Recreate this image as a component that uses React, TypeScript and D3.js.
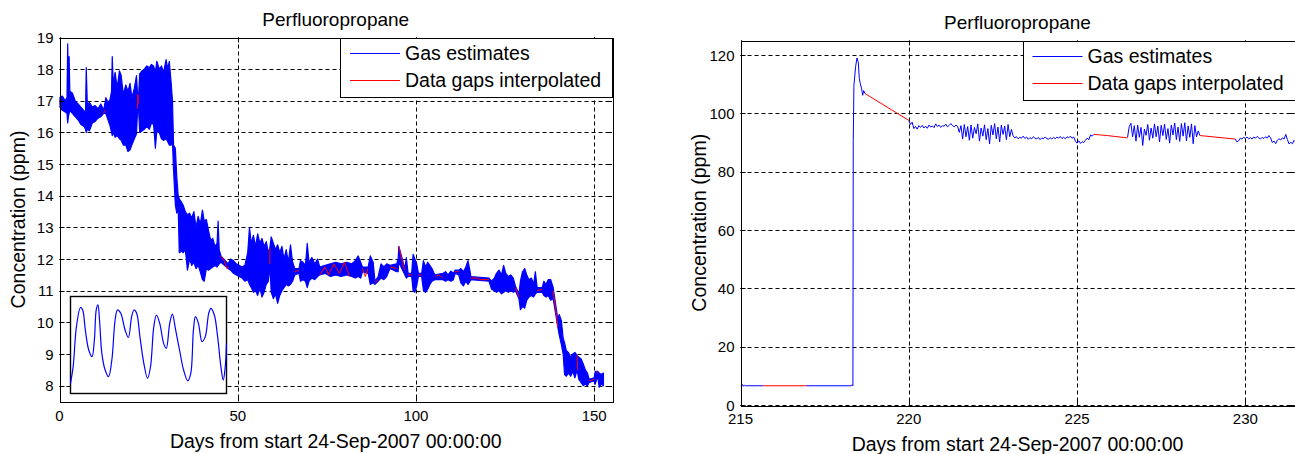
import React from 'react';
import * as d3 from 'd3';

const TITLE = 'Perfluoropropane';
const X_LABEL = 'Days from start 24-Sep-2007 00:00:00';
const Y_LABEL = 'Concentration (ppm)';
const LEGEND_LABELS = ['Gas estimates', 'Data gaps interpolated'];
const GAS_COLOR = '#0000ff';
const GAP_COLOR = '#ff0000';

const leftXTicks = [0, 50, 100, 150];
const leftYTicks = [8, 9, 10, 11, 12, 13, 14, 15, 16, 17, 18, 19];
const rightXTicks = [215, 220, 225, 230];
const rightYTicks = [0, 20, 40, 60, 80, 100, 120];

// Left panel: gas estimates as read envelope [day, low, high] (dense noisy record)
const leftGasEnvelope: [number, number, number][] = [
  [0, 16.8, 17.1], [0.8, 16.7, 17.15], [1.6, 16.65, 17.0], [2.1, 16.6, 17.1], [2.3, 16.3, 18.8],
  [2.5, 16.5, 17.4], [2.7, 16.6, 18.4], [2.9, 16.7, 17.3], [3.6, 16.6, 17.25], [4.4, 16.5, 17.0],
  [5.2, 16.4, 16.9], [6.0, 16.25, 16.8], [6.8, 16.2, 16.7], [7.3, 16.1, 16.6], [7.5, 16.0, 18.05],
  [7.8, 16.1, 16.9], [8.4, 16.05, 16.95], [9.2, 16.3, 16.8], [10.0, 16.35, 16.85], [10.8, 16.45, 16.75],
  [11.6, 16.5, 16.9], [12.4, 16.6, 16.7], [13.0, 16.6, 17.1], [13.6, 16.4, 16.95], [14.2, 16.2, 17.05],
  [14.6, 16.0, 17.3], [14.8, 15.9, 18.4], [15.1, 16.0, 17.5], [15.6, 15.85, 17.9], [16.2, 15.9, 17.4],
  [16.8, 15.8, 17.95], [17.3, 15.75, 17.8], [17.9, 15.6, 17.2], [18.6, 15.6, 17.5], [19.2, 15.4, 17.3],
  [19.8, 15.45, 17.55], [20.3, 15.6, 17.1], [21.0, 15.8, 17.4], [21.6, 15.95, 17.8], [21.9, 16.7, 17.2],
  [22.2, 16.7, 17.2], [22.5, 16.0, 17.85], [23.2, 16.05, 17.95], [23.8, 16.1, 18.0], [24.5, 16.2, 18.1],
  [25.2, 16.1, 18.05], [25.8, 16.3, 18.15], [26.4, 16.25, 18.1], [26.9, 15.5, 17.9], [27.3, 16.05, 18.25],
  [28.0, 16.0, 18.0], [28.6, 15.8, 18.1], [29.2, 15.75, 17.9], [29.9, 15.8, 18.3], [30.4, 15.7, 18.0],
  [30.8, 15.6, 18.25], [31.3, 15.6, 17.6], [31.7, 15.65, 17.0], [32.0, 14.8, 15.6], [32.5, 13.7, 15.5],
  [32.9, 13.45, 14.6], [33.3, 13.6, 14.0], [33.6, 12.2, 13.9], [34.2, 12.25, 13.8], [34.7, 12.2, 13.7],
  [35.3, 12.3, 13.5], [35.9, 11.65, 13.4], [36.5, 12.0, 13.45], [37.1, 11.8, 13.3], [37.7, 11.9, 13.5],
  [38.3, 11.7, 13.0], [38.9, 11.8, 13.35], [39.5, 11.6, 13.1], [40.1, 11.35, 13.55], [40.6, 11.3, 13.2],
  [41.2, 11.7, 13.25], [41.8, 11.65, 12.9], [42.4, 11.7, 12.6], [43.0, 11.75, 12.65], [43.6, 11.8, 12.4],
  [44.2, 11.75, 12.5], [44.5, 11.8, 13.2], [44.8, 11.85, 12.3], [45.3, 11.9, 12.1], [47.3, 11.7, 11.85],
  [48.0, 11.65, 12.0], [48.8, 11.55, 11.95], [49.6, 11.5, 11.85], [50.4, 11.45, 11.8], [51.2, 11.4, 11.75],
  [52.0, 11.3, 11.8], [52.8, 11.35, 12.2], [53.3, 11.2, 13.0], [53.8, 11.1, 12.5], [54.4, 10.95, 12.75],
  [55.0, 11.0, 12.4], [55.6, 10.85, 12.8], [56.2, 11.1, 12.5], [56.8, 10.8, 12.65], [57.4, 10.95, 12.4],
  [58.0, 11.2, 12.55], [58.6, 11.3, 12.2], [59.0, 11.8, 12.35], [59.4, 10.95, 12.7], [60.0, 10.75, 12.5],
  [60.6, 10.9, 12.3], [61.2, 10.6, 12.45], [61.8, 10.85, 12.2], [62.4, 11.0, 12.4], [63.0, 11.1, 12.0],
  [63.6, 11.2, 12.3], [64.2, 11.15, 11.9], [64.8, 11.2, 12.45], [65.4, 11.3, 11.9], [66.0, 11.5, 11.7],
  [67.2, 11.55, 11.7], [67.6, 11.3, 11.95], [68.3, 11.35, 11.9], [69.0, 11.3, 11.8], [69.5, 11.1, 12.5],
  [70.0, 11.3, 11.9], [70.8, 11.4, 12.05], [71.6, 11.35, 11.85], [72.4, 11.45, 12.0], [73.0, 11.5, 11.75],
  [74.5, 11.55, 11.8], [76.0, 11.45, 11.85], [77.5, 11.5, 11.9], [79.0, 11.45, 11.85], [80.5, 11.5, 11.9],
  [82.0, 11.45, 11.85], [83.0, 11.4, 11.95], [83.8, 11.45, 12.1], [84.5, 11.4, 11.9], [85.0, 11.6, 11.75],
  [86.6, 11.55, 11.75], [87.2, 11.2, 12.1], [88.0, 11.25, 11.9], [88.5, 11.2, 11.3], [89.4, 11.3, 11.45],
  [90.2, 11.4, 11.85], [91.0, 11.35, 11.75], [91.8, 11.45, 11.85], [92.7, 11.7, 11.8], [94.6, 11.6, 11.85],
  [95.0, 11.6, 12.0], [95.2, 11.9, 12.4], [96.9, 11.5, 11.7], [97.3, 11.4, 12.05], [97.8, 11.45, 11.55],
  [98.8, 11.45, 11.55], [99.2, 11.0, 12.15], [99.7, 10.95, 12.0], [100.2, 11.15, 11.85], [100.7, 11.45, 11.55],
  [101.6, 11.45, 11.55], [102.1, 11.0, 11.95], [102.7, 10.95, 11.75], [103.3, 11.05, 11.9], [103.9, 11.2, 11.8],
  [104.5, 11.3, 11.7], [105.3, 11.35, 11.5], [107.6, 11.35, 11.55], [108.3, 11.3, 11.6], [109.0, 11.35, 11.5],
  [109.8, 11.3, 11.62], [110.5, 11.35, 11.55], [111.0, 11.55, 11.65], [112.0, 11.5, 11.65], [112.6, 11.25, 11.7],
  [113.3, 11.15, 11.6], [114.0, 11.3, 11.75], [114.6, 11.2, 11.95], [115.2, 11.3, 11.6], [115.4, 11.35, 11.45],
  [120.5, 11.3, 11.4], [121.2, 11.05, 11.3], [122.0, 11.0, 11.4], [122.6, 10.95, 11.55], [123.3, 11.0, 11.65],
  [124.0, 10.9, 11.5], [124.6, 10.95, 11.8], [125.2, 11.0, 11.55], [125.9, 10.95, 11.45], [126.6, 11.0, 11.5],
  [127.3, 10.95, 11.4], [127.9, 11.0, 11.15], [128.9, 10.75, 10.9], [129.3, 10.4, 11.3], [129.9, 10.5, 11.6],
  [130.5, 10.45, 11.7], [131.1, 10.7, 11.5], [131.7, 10.8, 11.35], [132.4, 10.85, 11.4], [133.0, 10.8, 11.2],
  [133.5, 10.9, 11.6], [134.0, 10.95, 11.1], [135.4, 10.95, 11.1], [135.9, 10.85, 11.3], [136.5, 10.8, 11.2],
  [137.1, 10.85, 11.35], [137.8, 10.7, 11.35], [138.5, 10.75, 11.1], [139.8, 9.85, 10.1], [140.2, 9.6, 10.25],
  [140.8, 9.3, 10.05], [141.3, 9.0, 9.5], [141.7, 8.35, 9.35], [142.2, 8.3, 9.1], [142.8, 8.4, 9.05],
  [143.4, 8.3, 8.9], [144.0, 8.45, 9.0], [144.6, 8.25, 9.05], [145.2, 8.5, 8.95], [145.7, 8.2, 8.9],
  [146.3, 8.1, 8.85], [146.9, 8.0, 8.7], [147.5, 8.05, 8.5], [148.1, 8.0, 8.4], [148.6, 8.1, 8.2],
  [150.0, 8.15, 8.25], [150.3, 8.05, 8.45], [151.0, 8.3, 8.45], [151.4, 7.95, 8.4], [152.0, 8.05, 8.35],
  [152.6, 8.0, 8.4],
];

// Left panel: interpolated data gaps [day, ppm]
const leftGapSegments: [number, number][][] = [
  [[12.3, 16.6], [12.8, 16.7]],
  [[21.9, 16.75], [22.0, 17.2], [22.1, 16.9]],
  [[45.3, 12.1], [46.2, 11.95], [47.0, 11.7], [47.4, 11.75]],
  [[59.0, 11.85], [59.0, 12.35]],
  [[66.0, 11.6], [67.2, 11.65]],
  [[73.0, 11.5], [74.5, 11.75], [75.5, 11.5], [77.0, 11.85], [78.5, 11.55], [80.0, 11.9], [81.3, 11.45]],
  [[85.0, 11.7], [85.8, 11.45], [86.5, 11.7]],
  [[88.5, 11.25], [89.3, 11.35]],
  [[92.7, 11.75], [94.6, 11.7]],
  [[95.2, 12.4], [95.8, 12.1], [96.8, 11.65]],
  [[97.8, 11.5], [98.8, 11.5]],
  [[100.7, 11.5], [101.6, 11.5]],
  [[105.5, 11.45], [106.5, 11.5], [107.5, 11.4]],
  [[111.0, 11.6], [112.0, 11.6]],
  [[115.3, 11.4], [117.2, 11.4], [118.0, 11.35], [120.5, 11.35]],
  [[127.9, 11.1], [128.9, 10.8]],
  [[134.0, 11.0], [135.4, 11.05]],
  [[138.5, 11.0], [139.2, 10.4], [139.8, 9.85]],
  [[145.2, 8.95], [145.4, 8.5]],
  [[148.6, 8.15], [150.0, 8.2]],
  [[150.6, 8.45], [151.2, 8.4]],
];

// Inset (zoomed oscillation), relative time 0-100 and relative level 0-1
const insetTime = [0, 1.7, 3.8, 6.4, 7.8, 9.5, 11.7, 13.8, 15.3, 16.5, 17.6, 18.6, 20.1, 22.2, 24.4, 26.5, 28.6, 30.1,
  32.2, 35.0, 37.1, 39.2, 40.7, 42.4, 44.5, 47.0, 49.4, 51.3, 53.4, 55.1, 57.2, 59.7, 61.4, 63.6, 65.3, 67.4, 69.9,
  72.5, 75.2, 77.1, 78.8, 80.1, 82.0, 84.3, 86.4, 88.6, 90.0, 92.2, 94.3, 96.4, 97.9, 99.2, 100];
const insetLevel = [0.04, 0.24, 0.72, 0.95, 0.92, 0.68, 0.44, 0.36, 0.56, 0.92, 0.98, 0.80, 0.40, 0.20, 0.12, 0.32, 0.80,
  0.92, 0.88, 0.68, 0.59, 0.84, 0.92, 0.88, 0.60, 0.28, 0.10, 0.24, 0.72, 0.86, 0.76, 0.52, 0.46, 0.76, 0.87, 0.68, 0.44,
  0.20, 0.07, 0.16, 0.68, 0.84, 0.76, 0.54, 0.60, 0.88, 0.94, 0.86, 0.60, 0.24, 0.08, 0.24, 0.52];

// Right panel: gas estimate segments [day, ppm]
const rightGasSegments: [number, number][][] = [
  [[215.0, 6.6], [215.03, 6.3], [215.06, 7.0], [215.09, 6.4], [215.12, 6.8], [215.15, 6.6], [215.67, 6.6]],
  [[216.95, 6.6], [218.28, 6.6], [218.31, 6.9], [218.34, 6.6], [218.35, 90.7], [218.37, 109.6], [218.42, 116],
    [218.46, 119], [218.5, 117.5], [218.53, 112], [218.56, 110.2], [218.6, 108.4], [218.63, 106.2], [218.66, 107.8],
    [218.7, 106.8]],
  [[220.0, 97.5], [220.05, 96.2], [220.1, 97.0], [220.15, 94.8], [220.2, 95.5], [220.25, 94.6], [220.3, 95.8],
    [220.35, 95.2], [220.4, 95.9], [220.45, 95.0], [220.5, 95.6], [220.55, 94.9], [220.6, 96.0], [220.65, 95.3],
    [220.7, 95.7], [220.75, 95.1], [220.8, 96.4], [220.85, 95.5], [220.9, 96.0], [220.95, 95.2], [221.0, 95.8],
    [221.05, 95.6], [221.1, 96.3], [221.15, 95.4], [221.2, 95.9], [221.25, 96.5], [221.3, 95.8], [221.35, 95.4],
    [221.4, 96.0], [221.45, 95.6],
    [221.5, 93.5], [221.55, 95.8], [221.6, 91.2], [221.65, 96.2], [221.7, 92.0], [221.75, 95.5], [221.8, 90.8],
    [221.85, 96.0], [221.9, 91.5], [221.95, 95.2], [222.0, 93.0], [222.05, 96.4], [222.1, 90.5], [222.15, 95.0],
    [222.2, 92.2], [222.25, 96.1], [222.3, 91.0], [222.35, 94.8], [222.4, 89.5], [222.45, 95.9], [222.5, 92.6],
    [222.55, 96.5], [222.6, 91.3], [222.65, 95.3], [222.7, 90.2], [222.75, 96.0], [222.8, 92.8], [222.85, 95.6],
    [222.9, 91.0], [222.95, 96.2], [223.0, 92.0], [223.05, 94.5],
    [223.1, 92.3], [223.15, 91.6], [223.2, 92.0], [223.25, 91.3], [223.3, 91.8], [223.35, 91.5], [223.4, 92.2],
    [223.45, 91.4], [223.5, 91.9], [223.55, 91.1], [223.6, 91.7], [223.65, 91.3], [223.7, 92.0], [223.75, 91.5],
    [223.8, 91.2], [223.85, 91.8], [223.9, 91.0], [223.95, 91.6], [224.0, 91.3], [224.05, 91.9], [224.1, 91.4],
    [224.15, 91.1], [224.2, 91.7], [224.25, 91.2], [224.3, 91.8], [224.35, 91.3], [224.4, 91.9], [224.45, 91.5],
    [224.5, 92.1], [224.55, 91.4], [224.6, 91.8], [224.65, 91.3], [224.7, 92.0], [224.75, 91.6], [224.8, 92.2],
    [224.85, 91.5], [224.9, 91.9], [224.95, 90.5], [225.0, 89.8], [225.05, 90.6], [225.1, 89.7], [225.15, 90.3],
    [225.2, 90.0], [225.25, 90.8], [225.3, 91.5], [225.35, 91.0], [225.4, 92.6], [225.45, 92.2], [225.5, 92.8]],
  [[226.5, 91.8], [226.55, 95.5], [226.6, 96.6], [226.65, 92.0], [226.7, 95.8], [226.75, 90.5], [226.8, 96.0],
    [226.85, 91.8], [226.9, 95.2], [226.95, 89.0], [227.0, 94.6], [227.05, 92.5], [227.1, 96.2], [227.15, 90.8],
    [227.2, 95.0], [227.25, 91.5], [227.3, 96.4], [227.35, 92.0], [227.4, 95.6], [227.45, 90.2], [227.5, 95.9],
    [227.55, 92.4], [227.6, 96.3], [227.65, 91.1], [227.7, 94.8], [227.75, 89.8], [227.8, 96.0], [227.85, 92.6],
    [227.9, 96.7], [227.95, 91.0], [228.0, 95.3], [228.05, 90.4], [228.1, 96.5], [228.15, 92.2], [228.2, 96.8],
    [228.25, 90.6], [228.3, 95.7], [228.35, 91.8], [228.4, 96.4], [228.45, 89.6], [228.5, 95.8], [228.55, 92.0],
    [228.6, 94.0], [228.65, 92.4]],
  [[229.7, 91.2], [229.75, 90.2], [229.8, 90.6], [229.85, 91.5], [229.9, 91.2], [229.95, 91.8], [230.0, 91.4],
    [230.05, 91.9], [230.1, 91.3], [230.15, 91.7], [230.2, 91.2], [230.25, 91.9], [230.3, 91.5], [230.35, 92.1],
    [230.4, 91.6], [230.45, 91.2], [230.5, 91.8], [230.55, 91.4], [230.6, 92.0], [230.65, 91.5], [230.7, 92.4],
    [230.75, 91.6], [230.8, 90.0], [230.85, 90.5], [230.9, 89.6], [230.95, 90.8], [231.0, 91.3], [231.05, 90.9],
    [231.1, 91.6], [231.15, 91.2], [231.2, 92.8], [231.25, 91.0], [231.3, 89.5], [231.35, 90.1], [231.4, 89.6],
    [231.45, 90.8], [231.5, 89.8], [231.55, 90.4], [231.6, 90.0]],
];

const rightGapSegments: [number, number][][] = [
  [[215.67, 6.6], [216.95, 6.6]],
  [[218.7, 106.8], [220.0, 97.6]],
  [[225.5, 92.8], [225.9, 92.4], [226.5, 91.6]],
  [[228.65, 92.4], [229.7, 91.2]],
];

const FONT = "'Liberation Sans', Arial, Helvetica, sans-serif";

type Box = { left: number; right: number; top: number; bottom: number };

function Axes({
  id, box, xDomain, yDomain, xTicks, yTicks, children,
}: {
  id: string; box: Box; xDomain: [number, number]; yDomain: [number, number];
  xTicks: number[]; yTicks: number[];
  children: (x: d3.ScaleLinear<number, number>, y: d3.ScaleLinear<number, number>) => React.ReactNode;
}) {
  const x = d3.scaleLinear().domain(xDomain).range([box.left, box.right]);
  const y = d3.scaleLinear().domain(yDomain).range([box.bottom, box.top]);
  const px = (v: number) => Math.round(v) + 0.5;
  const cx = (box.left + box.right) / 2;
  const cy = (box.top + box.bottom) / 2;
  const legW = 272;
  const legH = 59;
  const legX = box.right - legW;
  const legY = box.top;
  return (
    <g>
      <defs>
        <clipPath id={id}>
          <rect x={box.left} y={box.top} width={box.right - box.left} height={box.bottom - box.top} />
        </clipPath>
      </defs>
      <rect x={box.left} y={box.top} width={box.right - box.left} height={box.bottom - box.top} fill="#fff" />
      {/* grid */}
      <g stroke="#000" strokeWidth={1} strokeDasharray="4,3" fill="none">
        {xTicks.map((t) => (
          <line key={'gx' + t} x1={px(x(t))} x2={px(x(t))} y1={box.top} y2={box.bottom} />
        ))}
        {yTicks.map((t) => (
          <line key={'gy' + t} x1={box.left} x2={box.right} y1={px(y(t))} y2={px(y(t))} />
        ))}
      </g>
      <g clipPath={`url(#${id})`}>{children(x, y)}</g>
      {/* ticks */}
      <g stroke="#000" strokeWidth={1}>
        {xTicks.map((t) => (
          <g key={'tx' + t}>
            <line x1={px(x(t))} x2={px(x(t))} y1={box.bottom} y2={box.bottom - 5} />
            <line x1={px(x(t))} x2={px(x(t))} y1={box.top} y2={box.top + 5} />
          </g>
        ))}
        {yTicks.map((t) => (
          <g key={'ty' + t}>
            <line x1={box.left} x2={box.left + 5} y1={px(y(t))} y2={px(y(t))} />
            <line x1={box.right} x2={box.right - 5} y1={px(y(t))} y2={px(y(t))} />
          </g>
        ))}
      </g>
      <rect x={px(box.left)} y={px(box.top)} width={Math.round(box.right - box.left)} height={Math.round(box.bottom - box.top)}
        fill="none" stroke="#000" strokeWidth={1} />
      {/* tick labels */}
      <g fontFamily={FONT} fontSize={15} fill="#000">
        {xTicks.map((t) => (
          <text key={'lx' + t} x={x(t)} y={box.bottom + 19} textAnchor="middle">{t}</text>
        ))}
        {yTicks.map((t) => (
          <text key={'ly' + t} x={box.left - 6} y={y(t)} textAnchor="end" dominantBaseline="central">{t}</text>
        ))}
      </g>
      <text x={cx} y={box.top - 12} textAnchor="middle" fontFamily={FONT} fontSize={19} fill="#000">{TITLE}</text>
      <text x={cx} y={box.bottom + 46} textAnchor="middle" fontFamily={FONT} fontSize={19.5} fill="#000">{X_LABEL}</text>
      <text transform={`translate(${box.left - 35},${cy}) rotate(-90)`} textAnchor="middle" fontFamily={FONT}
        fontSize={19.5} fill="#000">{Y_LABEL}</text>
      {/* legend */}
      <g>
        <rect x={px(legX)} y={px(legY)} width={legW} height={legH} fill="#fff" stroke="#000" strokeWidth={1} />
        {LEGEND_LABELS.map((lab, i) => {
          const ly = legY + 15.5 + i * 26.5;
          return (
            <g key={lab}>
              <line x1={legX + 10} x2={legX + 60} y1={Math.round(ly) + 0.5} y2={Math.round(ly) + 0.5}
                stroke={i === 0 ? GAS_COLOR : GAP_COLOR} strokeWidth={1} />
              <text x={legX + 65} y={ly} dominantBaseline="central" fontFamily={FONT} fontSize={19.5} fill="#000">{lab}</text>
            </g>
          );
        })}
      </g>
    </g>
  );
}

export default function App() {
  const leftBox: Box = { left: 59.5, right: 612, top: 37.5, bottom: 401.5 };
  const rightBox: Box = { left: 740.5, right: 1294.5, top: 40.5, bottom: 405 };
  const insetBox = { left: 70.5, right: 226.5, top: 296.5, bottom: 393.5 };

  const lineGen = (x: d3.ScaleLinear<number, number>, y: d3.ScaleLinear<number, number>) =>
    d3.line<[number, number]>().x((d) => x(d[0])).y((d) => y(d[1]));

  const ix = d3.scaleLinear().domain([0, 100]).range([insetBox.left, insetBox.right]);
  const iy = d3.scaleLinear().domain([0, 1]).range([386.7, 303.3]);
  const insetPath = d3.line<number>()
    .x((_, i) => ix(insetTime[i]))
    .y((d) => iy(d))
    .curve(d3.curveCatmullRom)(insetLevel) || '';

  return (
    <svg width={1295} height={454} style={{ position: 'absolute', left: 0, top: 0, background: '#fff' }}>
      <rect width={1295} height={454} fill="#fff" />
      <Axes id="clipL" box={leftBox} xDomain={[0, 155]} yDomain={[7.5, 19]} xTicks={leftXTicks} yTicks={leftYTicks}>
        {(x, y) => {
          const area = d3.area<[number, number, number]>()
            .x((d) => x(d[0])).y0((d) => y(d[1])).y1((d) => y(d[2]));
          const line = lineGen(x, y);
          return (
            <g>
              <path d={area(leftGasEnvelope) || ''} fill={GAS_COLOR} stroke={GAS_COLOR} strokeWidth={1.2} strokeLinejoin="round" />
              {leftGapSegments.map((s, i) => (
                <path key={i} d={line(s) || ''} fill="none" stroke={GAP_COLOR} strokeWidth={1} />
              ))}
            </g>
          );
        }}
      </Axes>
      <g>
        <rect x={insetBox.left} y={insetBox.top} width={insetBox.right - insetBox.left} height={insetBox.bottom - insetBox.top}
          fill="#fff" stroke="#000" strokeWidth={1.4} />
        <path d={insetPath} fill="none" stroke={GAS_COLOR} strokeWidth={1.2} />
      </g>
      <Axes id="clipR" box={rightBox} xDomain={[215, 231.46]} yDomain={[0, 125]} xTicks={rightXTicks} yTicks={rightYTicks}>
        {(x, y) => {
          const line = lineGen(x, y);
          return (
            <g>
              {rightGasSegments.map((s, i) => (
                <path key={'g' + i} d={line(s) || ''} fill="none" stroke={GAS_COLOR} strokeWidth={1} />
              ))}
              {rightGapSegments.map((s, i) => (
                <path key={'r' + i} d={line(s) || ''} fill="none" stroke={GAP_COLOR} strokeWidth={1} />
              ))}
            </g>
          );
        }}
      </Axes>
    </svg>
  );
}
